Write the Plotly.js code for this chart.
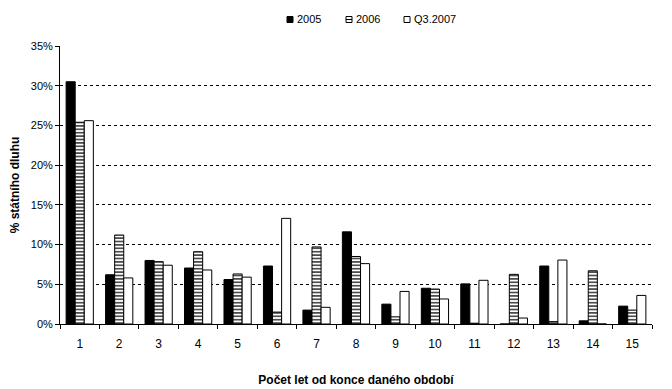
<!DOCTYPE html>
<html><head><meta charset="utf-8">
<script src="https://cdn.plot.ly/plotly-3.0.1.min.js"></script>
<style>body{margin:0;background:#fff}#c{width:672px;height:389px}</style>
</head><body><div id="c"></div>
<script>
const categories = ['1','2','3','4','5','6','7','8','9','10','11','12','13','14','15'];
const s2005 = [30.5, 6.2, 8.0, 7.05, 5.6, 7.3, 1.75, 11.6, 2.5, 4.5, 5.05, 0, 7.3, 0.4, 2.25];
const s2006 = [25.4, 11.2, 7.85, 9.1, 6.3, 1.5, 9.7, 8.5, 0.9, 4.4, 0.1, 6.25, 0.3, 6.7, 1.75];
const sQ3 = [25.6, 5.8, 7.4, 6.8, 5.9, 13.3, 2.1, 7.6, 4.1, 3.15, 5.5, 0.75, 8.05, 0, 3.6];
const seriesNames = ['2005', '2006', 'Q3.2007'];
const yTicks = [0, 5, 10, 15, 20, 25, 30, 35];

const F = 'Liberation Sans, Arial, sans-serif';
const W = 672, H = 389, ML = 60, MR = 20, MT = 46, MB = 65;
const PW = W - ML - MR, PH = H - MT - MB;
const px = v => (v - ML) / PW;          // pixel -> paper x
const py = v => (H - MB - v) / PH;      // pixel -> paper y

const line = {color: '#000', width: 1};
const traces = [
  {type: 'bar', name: seriesNames[0], x: categories, y: s2005,
   marker: {color: '#000', line: line}},
  {type: 'bar', name: seriesNames[1], x: categories, y: s2006,
   marker: {color: '#fff', line: line,
     pattern: {shape: '-', fgcolor: '#000', bgcolor: '#fff', size: 3.4, solidity: 0.35, fillmode: 'replace'}}},
  {type: 'bar', name: seriesNames[2], x: categories, y: sQ3,
   marker: {color: '#fff', line: line}}
];

// manual legend (small squares + labels) in the top margin
const legX = [287, 346, 404];
const shapes = [], annotations = [];
seriesNames.forEach((n, i) => {
  const x0 = legX[i];
  shapes.push({type: 'rect', xref: 'paper', yref: 'paper',
    x0: px(x0), x1: px(x0 + 6), y0: py(22.5), y1: py(16.5),
    fillcolor: i === 0 ? '#000' : '#fff', line: {color: '#000', width: 1}});
  if (i === 1) shapes.push({type: 'line', xref: 'paper', yref: 'paper',
    x0: px(x0), x1: px(x0 + 6), y0: py(19.5), y1: py(19.5), line: {color: '#000', width: 1}});
  annotations.push({xref: 'paper', yref: 'paper', x: px(x0 + 8), y: py(19.5),
    xanchor: 'left', yanchor: 'middle', showarrow: false, text: n,
    font: {family: F, size: 11, color: '#000'}});
});

const layout = {
  width: W, height: H,
  margin: {l: ML, r: MR, t: MT, b: MB},
  paper_bgcolor: '#fff', plot_bgcolor: '#fff',
  font: {family: F, size: 11, color: '#000'},
  barmode: 'group', bargap: 0.31, bargroupgap: 0,
  showlegend: false,
  shapes: shapes, annotations: annotations,
  xaxis: {type: 'category', tickson: 'boundaries', ticks: 'outside', ticklen: 4,
    tickcolor: '#000', showline: true, linecolor: '#000', linewidth: 1,
    showgrid: false, tickfont: {family: F, size: 12}, ticklabelstandoff: 9,
    title: {text: 'Počet let od konce daného období', font: {family: F, size: 12, weight: 'bold'}, standoff: 25}},
  yaxis: {range: [0, 35], tickvals: yTicks, ticktext: yTicks.map(v => v + '%'),
    ticks: 'outside', ticklen: 4, tickcolor: '#000',
    showline: true, linecolor: '#000', linewidth: 1,
    showgrid: true, gridcolor: '#000', griddash: '3px,3px', gridwidth: 1,
    zeroline: false, tickfont: {family: F, size: 11},
    title: {text: '% státního dluhu', font: {family: F, size: 12, weight: 'bold'}, standoff: 8}}
};
Plotly.newPlot('c', traces, layout, {displayModeBar: false, staticPlot: true});
</script></body></html>
